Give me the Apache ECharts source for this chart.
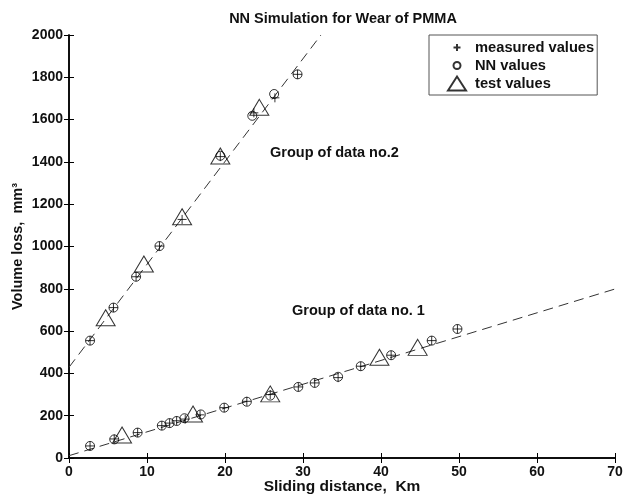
<!DOCTYPE html>
<html>
<head>
<meta charset="utf-8">
<script src="https://cdn.jsdelivr.net/npm/echarts@6/dist/echarts.min.js"></script>
<style>
  html, body { margin: 0; padding: 0; background: #fff; }
  #chart { width: 623px; height: 497px; }
</style>
</head>
<body>
<div id="chart"></div>
<script>
// group 1 (lower line)
var nn1Dist = [2.7, 5.8, 8.8, 11.9, 12.9, 13.8, 14.8, 16.9, 19.9, 22.8, 25.8, 29.4, 31.5, 34.5, 37.4, 41.3, 46.5, 49.8];
var nn1Vol  = [57, 88, 120, 153, 165, 175, 188, 206, 238, 266, 295, 336, 355, 384, 434, 486, 555, 610];
var meas1Dist = [2.7, 5.8, 8.8, 11.9, 12.9, 13.8, 14.9, 16.8, 19.9, 22.8, 25.8, 29.4, 31.5, 34.5, 37.4, 41.3, 46.5, 49.8];
var meas1Vol  = [57, 90, 120, 153, 165, 176, 184, 204, 238, 268, 300, 336, 355, 380, 434, 486, 555, 610];
var test1Dist = [6.8, 15.9, 25.8, 39.8, 44.7];
var test1Vol  = [109, 208, 303, 476, 523];
var fit1 = [[0, 11], [70, 799]];

// group 2 (upper line)
var nn2Dist = [2.7, 5.7, 8.6, 11.6, 19.4, 23.5, 26.3, 29.3];
var nn2Vol  = [555, 711, 857, 1002, 1429, 1618, 1721, 1814];
var meas2Dist = [2.7, 5.7, 8.6, 11.6, 14.5, 19.4, 23.7, 26.4, 29.3];
var meas2Vol  = [555, 711, 857, 1002, 1128, 1425, 1632, 1703, 1814];
var test2Dist = [4.7, 9.6, 14.5, 19.4, 24.4];
var test2Vol  = [663, 917, 1141, 1428, 1658];
var fit2 = [[0, 429], [32.3, 2000]];

var xTicks = [0, 10, 20, 30, 40, 50, 60, 70];
var yTicks = [0, 200, 400, 600, 800, 1000, 1200, 1400, 1600, 1800, 2000];

function pairs(xs, ys) {
    return xs.map(function (x, i) { return [x, ys[i]]; });
}

var FONT = '"Liberation Sans", Arial, sans-serif';
var plusSym = 'path://M0,5 L10,5 M5,0 L5,10';
var openStyle = { color: 'transparent', borderColor: '#000', borderWidth: 1 };
var boldText = { fontFamily: FONT, fontSize: 14, fontWeight: 'bold', color: '#111' };

var myChart = echarts.init(document.getElementById('chart'));

function fitSeries(data) {
    return {
        type: 'line', data: data, symbol: 'none', silent: true,
        lineStyle: { color: '#333', width: 1, type: [10, 6] }, z: 1
    };
}
function nnSeries(data) {
    return { name: 'NN values', type: 'scatter', data: data, symbol: 'circle', symbolSize: 9, itemStyle: openStyle, z: 3 };
}
function measSeries(data) {
    return { name: 'measured values', type: 'scatter', data: data, symbol: plusSym, symbolSize: 9, itemStyle: openStyle, z: 4 };
}
function testSeries(data) {
    return { name: 'test values', type: 'scatter', data: data, symbol: 'triangle', symbolSize: [19, 16], itemStyle: openStyle, z: 5 };
}

var option = {
    animation: false,
    backgroundColor: '#fff',
    textStyle: { fontFamily: FONT },
    title: {
        text: 'NN Simulation for Wear of PMMA',
        left: 338, top: 6, textAlign: 'center',
        textStyle: { fontFamily: FONT, fontSize: 14.5, fontWeight: 'bold', color: '#111' }
    },
    legend: {
        orient: 'vertical', left: 429, top: 35,
        padding: [4, 3, 3, 14], itemGap: 1,
        itemWidth: 26, itemHeight: 15,
        borderColor: '#555', borderWidth: 1, backgroundColor: '#fff',
        selectedMode: false,
        textStyle: { fontFamily: FONT, fontSize: 14.7, fontWeight: 'bold', color: '#111', lineHeight: 15 },
        data: [
            { name: 'measured values', icon: 'path://M0,0 M26,15 M9.5,7.5 L16.5,7.5 M13,4 L13,11' },
            { name: 'NN values', icon: 'path://M0,0 M26,15 M16.5,7.5 A3.5,3.5 0 1 1 9.5,7.5 A3.5,3.5 0 1 1 16.5,7.5' },
            { name: 'test values', icon: 'path://M0,0 M26,15 M4,14.5 L13,0.5 L22,14.5 Z' }
        ]
    },
    grid: { left: 69, right: 8, top: 35, bottom: 39, outerBoundsMode: 'none' },
    graphic: [
        { type: 'text', left: 270, top: 145,
          style: { text: 'Group of data no.2', font: 'bold 14.5px ' + FONT, fill: '#111' } },
        { type: 'text', left: 292, top: 303,
          style: { text: 'Group of data no. 1', font: 'bold 14.5px ' + FONT, fill: '#111' } }
    ],
    xAxis: [{
        type: 'value', min: xTicks[0], max: xTicks[xTicks.length - 1], interval: 10,
        name: 'Sliding distance,  Km', nameLocation: 'middle', nameGap: 21, nameMoveOverlap: false,
        nameTextStyle: { fontFamily: FONT, fontSize: 15.5, fontWeight: 'bold', color: '#111', verticalAlign: 'top' },
        axisLine: { lineStyle: { color: '#000', width: 1.5 } },
        axisTick: { inside: true, length: 5, lineStyle: { color: '#000' } },
        axisLabel: Object.assign({ margin: 7 }, boldText),
        splitLine: { show: false }
    }, {
        type: 'value', position: 'top', min: xTicks[0], max: xTicks[xTicks.length - 1], interval: 10,
        axisLine: { show: true, lineStyle: { color: '#000', width: 1.5 } },
        axisTick: { inside: true, length: 5, lineStyle: { color: '#000' } },
        axisLabel: { show: false }, splitLine: { show: false }
    }],
    yAxis: [{
        type: 'value', min: yTicks[0], max: yTicks[yTicks.length - 1], interval: 200,
        name: 'Volume loss,  mm\u00b3', nameLocation: 'middle', nameGap: 44, nameMoveOverlap: false,
        nameTextStyle: { fontFamily: FONT, fontSize: 14.5, fontWeight: 'bold', color: '#111' },
        axisLine: { show: true, lineStyle: { color: '#000', width: 1.5 } },
        axisTick: { show: true, inside: true, length: 5, lineStyle: { color: '#000' } },
        axisLabel: Object.assign({ margin: 6, formatter: function (v) { return String(v); } }, boldText),
        splitLine: { show: false }
    }, {
        type: 'value', position: 'right', min: yTicks[0], max: yTicks[yTicks.length - 1], interval: 200,
        axisLine: { show: true, lineStyle: { color: '#000', width: 1.5 } },
        axisTick: { show: true, inside: true, length: 5, lineStyle: { color: '#000' } },
        axisLabel: { show: false }, splitLine: { show: false }
    }],
    series: [
        fitSeries(fit1),
        fitSeries(fit2),
        nnSeries(pairs(nn1Dist, nn1Vol)),
        nnSeries(pairs(nn2Dist, nn2Vol)),
        measSeries(pairs(meas1Dist, meas1Vol)),
        measSeries(pairs(meas2Dist, meas2Vol)),
        testSeries(pairs(test1Dist, test1Vol)),
        testSeries(pairs(test2Dist, test2Vol))
    ]
};

myChart.setOption(option);
</script>
</body>
</html>
